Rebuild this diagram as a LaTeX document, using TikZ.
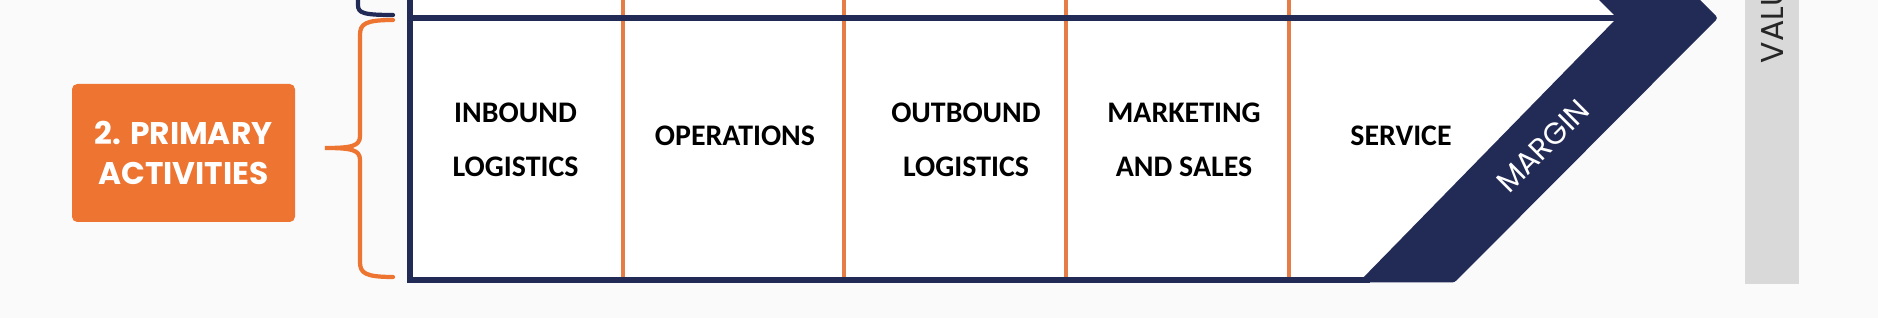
\documentclass[tikz,border=0pt]{standalone}
\usepackage{fontspec}
\usepackage{xcolor}
\usetikzlibrary{positioning, calc}
\setmainfont{Carlito}
\newfontfamily\headfont{Poppins}
\definecolor{chainnavy}{HTML}{222A56}
\definecolor{chainorange}{HTML}{ED7431}
\definecolor{lineorange}{HTML}{E67C46}
\definecolor{valuegray}{HTML}{D9D9D9}
\definecolor{pagebg}{HTML}{FAFAFA}

\begin{document}
\begin{tikzpicture}[
    activity/.style={align=center, font=\fontsize{8.5pt}{15.5pt}\selectfont\bfseries, inner sep=0pt},
    divider/.style={lineorange, line width=1.15pt},
    frame/.style={chainnavy, line width=1.45pt},
    brace/.style={line width=1.2pt, line cap=round},
    labelbox/.style={fill=chainorange, rounded corners=1.5pt, minimum width=2.23cm, minimum height=1.38cm, align=center, text=white, font=\headfont\fontsize{8.9pt}{11.2pt}\selectfont\bfseries},
]
\useasboundingbox (0,0) rectangle (18.78,3.18);
\clip (0,0) rectangle (18.78,3.18);
\fill[pagebg] (0,0) rectangle (18.78,3.18);
\fill[white] (4.10,3.18) -- (15.99,3.18) -- (16.17,3.00) -- (13.60,0.38) -- (4.10,0.38) -- cycle;

\foreach \x in {6.23, 8.44, 10.66, 12.89}
    \draw[divider] (\x,3.18) -- (\x,0.38);

\draw[frame] (4.10,3.30) -- (4.10,0.38) -- (13.70,0.38);
\draw[frame] (4.10,3.00) -- (16.20,3.00);

\fill[chainnavy, rounded corners=0.8pt] (15.89,3.28) -- (16.17,3.00) -- (13.585,0.355) -- (14.545,0.355) -- (17.18,3.00) -- (16.90,3.28) -- cycle;

\fill[valuegray] (17.45,3.30) rectangle (17.99,0.34);

\draw[brace, chainnavy] (3.58,3.30) -- (3.58,3.13) .. controls (3.58,3.05) and (3.63,3.03) .. (3.93,3.03);
\draw[brace, chainorange] (3.93,2.98) .. controls (3.65,2.98) and (3.60,2.94) .. (3.60,2.83)
    -- (3.60,1.82) .. controls (3.60,1.72) and (3.52,1.70) .. (3.25,1.70)
    .. controls (3.52,1.70) and (3.60,1.68) .. (3.60,1.58)
    -- (3.60,0.56) .. controls (3.60,0.45) and (3.65,0.41) .. (3.93,0.41);

\node[labelbox] (primary) at (1.835,1.65) {2. PRIMARY\\ACTIVITIES};

\node[activity] (inbound) at (5.155,1.78) {INBOUND\\LOGISTICS};
\node[activity] (operations) at (7.35,1.825) {OPERATIONS};
\node[activity] (outbound) at (9.66,1.78) {OUTBOUND\\LOGISTICS};
\node[activity] (marketing) at (11.84,1.78) {MARKETING\\AND SALES};
\node[activity] (service) at (14.01,1.825) {SERVICE};

\node[rotate=45, text=white, font=\headfont\fontsize{8.6pt}{10pt}\selectfont] (margin) at (15.43,1.72) {MARGIN};
\node[rotate=90, anchor=west, inner sep=0pt, text=black!85, font=\headfont\fontsize{9pt}{10pt}\selectfont] (value) at (17.73,2.54) {VALU};
\end{tikzpicture}
\end{document}
